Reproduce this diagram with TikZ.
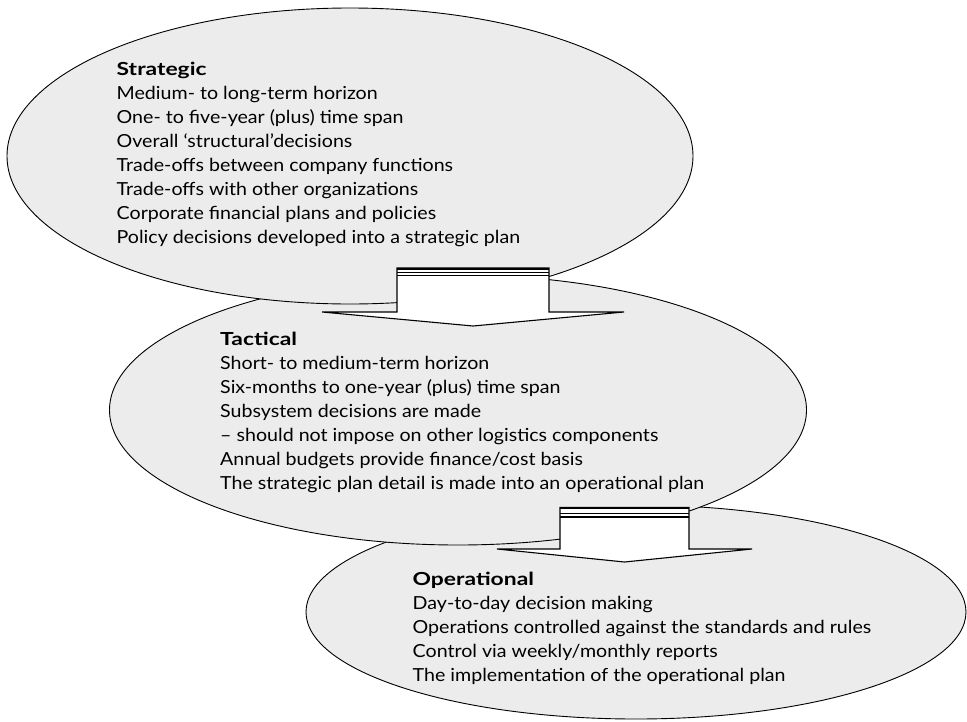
\documentclass[tikz,border=0pt]{standalone}
\usepackage{fontspec}
\setmainfont{Lato}[FakeStretch=1.09]
\newfontfamily\headfont{Lato}[FakeStretch=1.27]
\usetikzlibrary{shapes.geometric}
\definecolor{levelfill}{RGB}{236,236,236}
\newcommand{\levelhead}[1]{{\headfont\bfseries #1}}
\begin{document}
\begin{tikzpicture}[x=1pt,y=-1pt,
  level/.style={ellipse, draw=black, line width=0.9pt, fill=levelfill, inner sep=0pt},
  body/.style={anchor=base west, align=left, inner sep=0pt,
    font=\fontsize{18}{24}\selectfont},
  blockarrow/.style={draw=black, line width=1.1pt, fill=white, line join=miter},
  topband/.style={draw=black, line width=2.2pt},
  stripe/.style={draw=black, line width=1.1pt}]
\useasboundingbox (0,0) rectangle (967,721);
\fill[white] (0,0) rectangle (967,721);

% the three planning levels, lowest first so each upper one overlaps the next
\node[level, minimum width=660, minimum height=214] (op)  at (636,612) {};
\node[level, minimum width=697, minimum height=270] (tac) at (458,410) {};
\node[level, minimum width=686, minimum height=296] (str) at (350,156) {};

% block arrow: strategic -> tactical
\coordinate (a1) at (473,268);
\draw[blockarrow] (a1) ++(-76,0) -- ++(0,44) -- ++(-75,0) -- ++(151,14)
  -- ++(151,-14) -- ++(-75,0) -- ++(0,-44) -- cycle;
\draw[topband] (a1) ++(-76,1) -- ++(152,0);
\draw[stripe] (a1) ++(-76,4.5) -- ++(152,0);
\draw[stripe] (a1) ++(-76,7.5) -- ++(152,0);

% block arrow: tactical -> operational
\coordinate (a2) at (624.5,507.5);
\draw[blockarrow] (a2) ++(-64.5,0) -- ++(0,41.5) -- ++(-63,0) -- ++(127.5,13)
  -- ++(127.5,-13) -- ++(-63,0) -- ++(0,-41.5) -- cycle;
\draw[topband] (a2) ++(-64.5,0.5) -- ++(129,0);
\draw[stripe] (a2) ++(-64.5,6) -- ++(129,0);
\draw[stripe] (a2) ++(-64.5,9.5) -- ++(129,0);

% texts of each level (anchored at the baseline of the last line)
\node[body] (strtext) at (116.5,243) {\levelhead{Strategic}\\
  Medium- to long-term horizon\\
  One- to five-year (plus) time span\\
  Overall ‘structural’decisions\\
  Trade-offs between company functions\\
  Trade-offs with other organizations\\
  Corporate financial plans and policies\\
  Policy decisions developed into a strategic plan};
\node[body] (tactext) at (220,489) {\levelhead{Tactical}\\
  Short- to medium-term horizon\\
  Six-months to one-year (plus) time span\\
  Subsystem decisions are made\\
  – should not impose on other logistics components\\
  Annual budgets provide finance/cost basis\\
  The strategic plan detail is made into an operational plan};
\node[body] (optext) at (412.5,681) {\levelhead{Operational}\\
  Day-to-day decision making\\
  Operations controlled against the standards and rules\\
  Control via weekly/monthly reports\\
  The implementation of the operational plan};
\end{tikzpicture}
\end{document}
